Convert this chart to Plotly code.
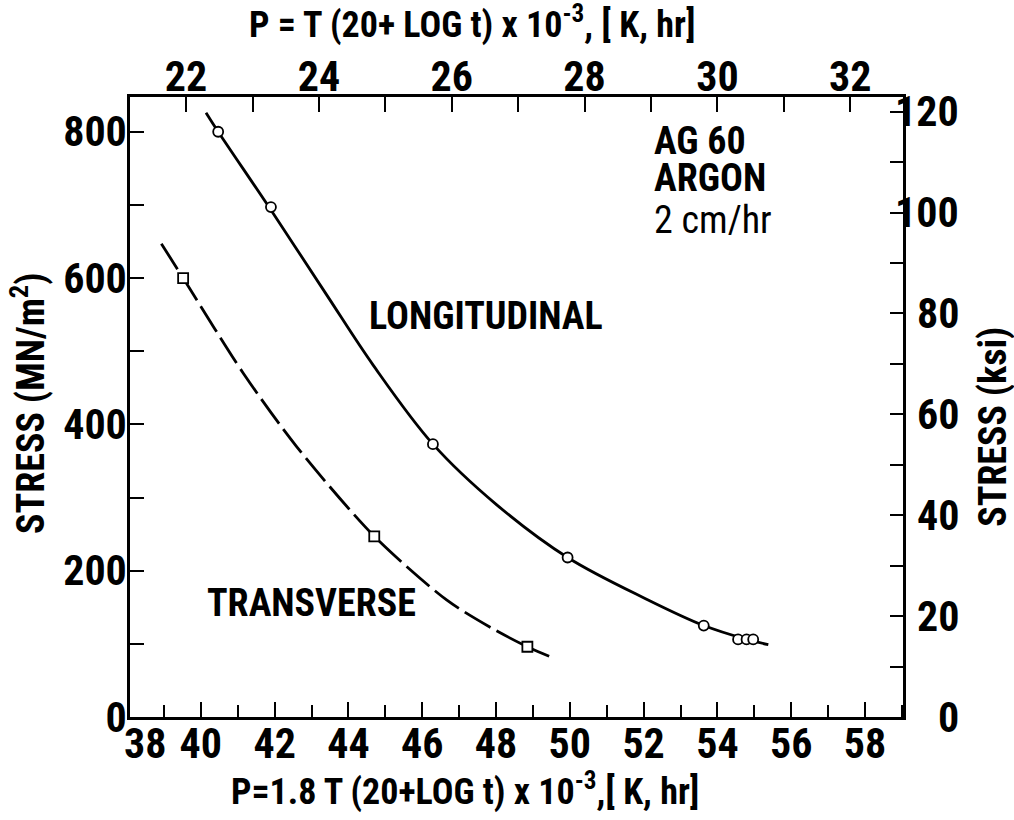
import plotly.graph_objects as go

# ---------------- data ----------------
# P = 1.8 T (20 + log t) x 10^-3 ; stress in MN/m^2
long_pts_P = [40.47, 41.90, 46.29, 49.94, 53.63, 54.56, 54.79, 54.97]
long_pts_S = [800, 697, 373, 218, 125, 106, 106, 106]
trans_pts_P = [39.52, 44.70, 48.85]
trans_pts_S = [600, 247, 96]

# hand-drawn fitted curves
long_curve_P = [40.14, 40.47, 41.90, 43.41, 44.67, 46.29, 48.02, 49.94, 52.08, 53.63, 54.80, 55.38]
long_curve_S = [826, 800, 693, 577, 481, 373, 290, 218, 161, 125, 106, 99]
trans_curve_P = [38.93, 39.52, 41.15, 42.59, 44.70, 46.66, 47.83, 48.85, 49.44]
trans_curve_S = [647, 600, 470, 370, 247, 160, 123, 96, 83]

# axes
bottom_major = [40, 42, 44, 46, 48, 50, 52, 54, 56, 58]
bottom_first_label = "38"
top_major = [22, 24, 26, 28, 30, 32]
left_major = [0, 200, 400, 600, 800]
right_labels = [0, 20, 40, 60, 80, 100, 120]

text_labels = ["AG 60", "ARGON", "2 cm/hr"]

P_MIN, P_MAX = 38.08, 59.03
S_MAX = 847.5
MPA_PER_KSI = 6.895
TOP_FACTOR = 1.8

FONT = "Roboto Condensed, DejaVu Sans Condensed, sans-serif"
TICKF = dict(family=FONT, size=42, color="black", weight="bold")
TXTF = dict(family=FONT, size=38, color="black", weight="bold")
XTITLEF = dict(family=FONT, size=36, color="black", weight="bold")
TXTF_N = dict(family=FONT, size=38, color="black", weight="normal")

fig = go.Figure()
fig.add_trace(go.Scatter(x=long_curve_P, y=long_curve_S, mode="lines",
                         line=dict(color="black", width=2.8, shape="spline", smoothing=1.0),
                         hoverinfo="skip", showlegend=False))
fig.add_trace(go.Scatter(x=trans_curve_P, y=trans_curve_S, mode="lines",
                         line=dict(color="black", width=2.8, shape="spline", smoothing=0.8,
                                   dash="30px,7px"),
                         hoverinfo="skip", showlegend=False))
fig.add_trace(go.Scatter(x=long_pts_P, y=long_pts_S, mode="markers",
                         marker=dict(symbol="circle", size=10, color="white",
                                     line=dict(color="black", width=1.8)),
                         showlegend=False))
fig.add_trace(go.Scatter(x=trans_pts_P, y=trans_pts_S, mode="markers",
                         marker=dict(symbol="square", size=10, color="white",
                                     line=dict(color="black", width=1.8)),
                         showlegend=False))
# secondary axes holder
fig.add_trace(go.Scatter(x=[None], y=[None], xaxis="x2", yaxis="y2", showlegend=False,
                         hoverinfo="skip"))

axline = dict(showline=True, linecolor="black", linewidth=2.5, showgrid=False,
              zeroline=False, ticks="inside", tickcolor="black", tickwidth=2)

fig.update_layout(
    width=1014, height=820,
    margin=dict(l=130, r=111, t=97, b=103),
    paper_bgcolor="white", plot_bgcolor="white",
    xaxis=dict(range=[P_MIN, P_MAX], tickvals=bottom_major, ticklen=15,
               minor=dict(dtick=1, tick0=0, ticks="inside", ticklen=12, tickcolor="black", tickwidth=2),
               tickfont=TICKF, ticklabelstandoff=-12,
               **axline),
    xaxis2=dict(range=[P_MIN / TOP_FACTOR, P_MAX / TOP_FACTOR], overlaying="x", side="top",
                anchor="y", tickvals=top_major, ticklen=15,
                minor=dict(dtick=1, tick0=0, ticks="inside", ticklen=15, tickcolor="black", tickwidth=2),
                tickfont=TICKF, ticklabelstandoff=-14,
                **axline),
    yaxis=dict(range=[0, S_MAX], tickvals=left_major, ticklen=14,
               minor=dict(dtick=100, tick0=0, ticks="inside", ticklen=14, tickcolor="black", tickwidth=2),
               tickfont=TICKF, ticklabelstandoff=-8,
               **axline),
    yaxis2=dict(range=[0, S_MAX / MPA_PER_KSI], overlaying="y", side="right", anchor="x",
                tickvals=right_labels, ticklen=13, showticklabels=False,
                minor=dict(dtick=10, tick0=0, ticks="inside", ticklen=13, tickcolor="black", tickwidth=2),
                **axline),
)

annotations = []
# axis titles
annotations.append(dict(x=0.4424, xref="paper", y=1, yref="paper", yshift=75,
                        text="P = T (20+ LOG t) x 10<sup>-3</sup>, [ K, hr]", showarrow=False,
                        xanchor="center", yanchor="middle", font=XTITLEF))
annotations.append(dict(x=0.434, xref="paper", y=0, yref="paper", yshift=-72,
                        text="P=1.8 T (20+LOG t) x 10<sup>-3</sup>,[ K, hr]", showarrow=False,
                        xanchor="center", yanchor="middle", font=XTITLEF))
annotations.append(dict(x=0, xref="paper", xshift=-102, y=0.505, yref="paper",
                        text="STRESS (MN/m<sup>2</sup>)", textangle=-90, showarrow=False,
                        xanchor="center", yanchor="middle", font=TXTF))
annotations.append(dict(x=1, xref="paper", xshift=90, y=0.468, yref="paper",
                        text="STRESS (ksi)", textangle=-90, showarrow=False,
                        xanchor="center", yanchor="middle", font=TXTF))
# "38" label, nudged right of the corner as in the original
annotations.append(dict(x=P_MIN, xref="x", y=0, yref="paper", text=bottom_first_label,
                        showarrow=False, xanchor="center", yanchor="top", xshift=15, yshift=0,
                        font=TICKF))
# right-hand ksi labels, right aligned
for v in right_labels:
    annotations.append(dict(x=1, xref="paper", y=v, yref="y2", text=str(v), showarrow=False,
                            xanchor="right", yanchor="middle", xshift=58, font=TICKF))
# text block
for i, t in enumerate(text_labels):
    annotations.append(dict(x=52.23, xref="x", y=[787, 737, 679][i], yref="y", text=t,
                            showarrow=False, xanchor="left", yanchor="middle",
                            font=TXTF if i < 2 else TXTF_N))
annotations.append(dict(x=47.73, xref="x", y=548, yref="y", text="LONGITUDINAL", showarrow=False,
                        xanchor="center", yanchor="middle", font=TXTF))
annotations.append(dict(x=40.11, xref="x", y=156, yref="y", text="TRANSVERSE", showarrow=False,
                        xanchor="left", yanchor="middle", font=TXTF))
fig.update_layout(annotations=annotations)

fig.write_html("out.html")
